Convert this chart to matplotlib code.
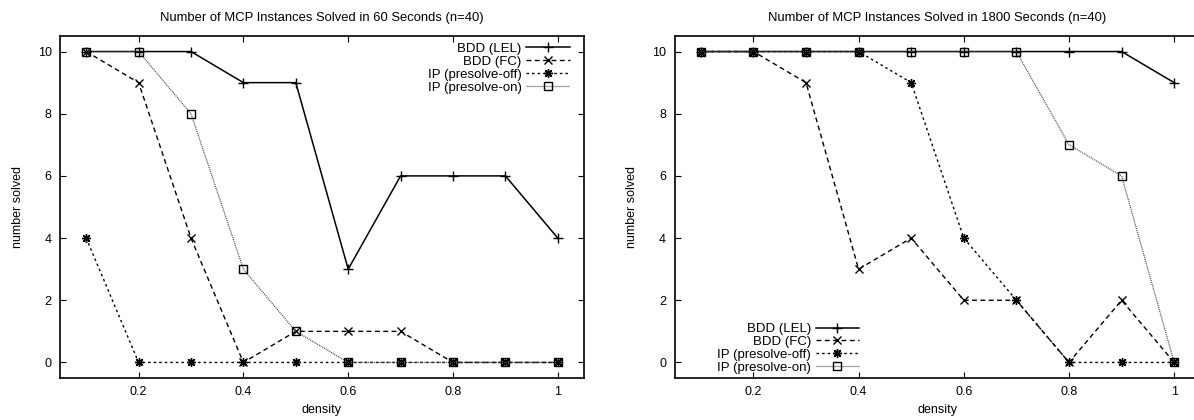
import matplotlib
matplotlib.use('Agg')
import matplotlib.pyplot as plt

plt.rcParams['font.family'] = ['Liberation Sans', 'DejaVu Sans']
plt.rcParams['font.size'] = 9

# data
density = [0.1, 0.2, 0.3, 0.4, 0.5, 0.6, 0.7, 0.8, 0.9, 1.0]
labels = ['BDD (LEL)', 'BDD (FC)', 'IP (presolve-off)', 'IP (presolve-on)']

lel_60 = [10, 10, 10, 9, 9, 3, 6, 6, 6, 4]
fc_60 = [10, 9, 4, 0, 1, 1, 1, 0, 0, 0]
off_60 = [4, 0, 0, 0, 0, 0, 0, 0, 0, 0]
on_60 = [10, 10, 8, 3, 1, 0, 0, 0, 0, 0]

lel_1800 = [10, 10, 10, 10, 10, 10, 10, 10, 10, 9]
fc_1800 = [10, 10, 9, 3, 4, 2, 2, 0, 2, 0]
off_1800 = [10, 10, 10, 10, 9, 4, 2, 0, 0, 0]
on_1800 = [10, 10, 10, 10, 10, 10, 10, 7, 6, 0]

styles = [
    dict(color='black', linestyle='-', marker='+', markersize=7, lw=1.1),
    dict(color='black', linestyle=(0, (3.5, 2.5)), marker='x', markersize=5.5, lw=1.0),
    dict(color='black', linestyle=(0, (1.8, 2.2)), marker=(8, 2, 0), markersize=6.5, lw=1.0),
    dict(color='#444444', linestyle=(0, (0.8, 0.8)), marker='s', markersize=5.2,
         markerfacecolor='none', markeredgecolor='black', markeredgewidth=1.0, lw=0.9),
]


def draw(ax, series, title, legend_loc, anchor):
    for vals, lab, st in zip(series, labels, styles):
        ax.plot(density, vals, label=lab, clip_on=False, **st)
    ax.set_xlim(0.05, 1.05)
    ax.set_ylim(-0.5, 10.5)
    ax.set_xticks([0.2, 0.4, 0.6, 0.8, 1.0])
    ax.set_xticklabels(['0.2', '0.4', '0.6', '0.8', '1'])
    ax.set_yticks([0, 2, 4, 6, 8, 10])
    ax.tick_params(direction='in', length=4, width=0.8, top=True, right=True, pad=6)
    for sp in ax.spines.values():
        sp.set_linewidth(1.2)
    ax.set_title(title, fontsize=9.4, pad=11)
    ax.set_xlabel('density', labelpad=4)
    ax.set_ylabel('number solved', labelpad=10)
    ax.legend(loc=legend_loc, bbox_to_anchor=anchor, markerfirst=False, frameon=False,
              handlelength=3.3, handletextpad=0.35, labelspacing=0.05, borderpad=0,
              borderaxespad=0, fontsize=9.5)


fig = plt.figure(figsize=(11.94, 4.2), dpi=100)
ax1 = fig.add_axes([60 / 1194, 42 / 420, 524 / 1194, 342 / 420])
ax2 = fig.add_axes([674.5 / 1194, 42 / 420, 526 / 1194, 342 / 420])

draw(ax1, [lel_60, fc_60, off_60, on_60],
     'Number of MCP Instances Solved in 60 Seconds (n=40)', 'upper right', (0.973, 0.98))
draw(ax2, [lel_1800, fc_1800, off_1800, on_1800],
     'Number of MCP Instances Solved in 1800 Seconds (n=40)', 'lower left', (0.081, 0.012))

fig.savefig('out.png', dpi=100)
